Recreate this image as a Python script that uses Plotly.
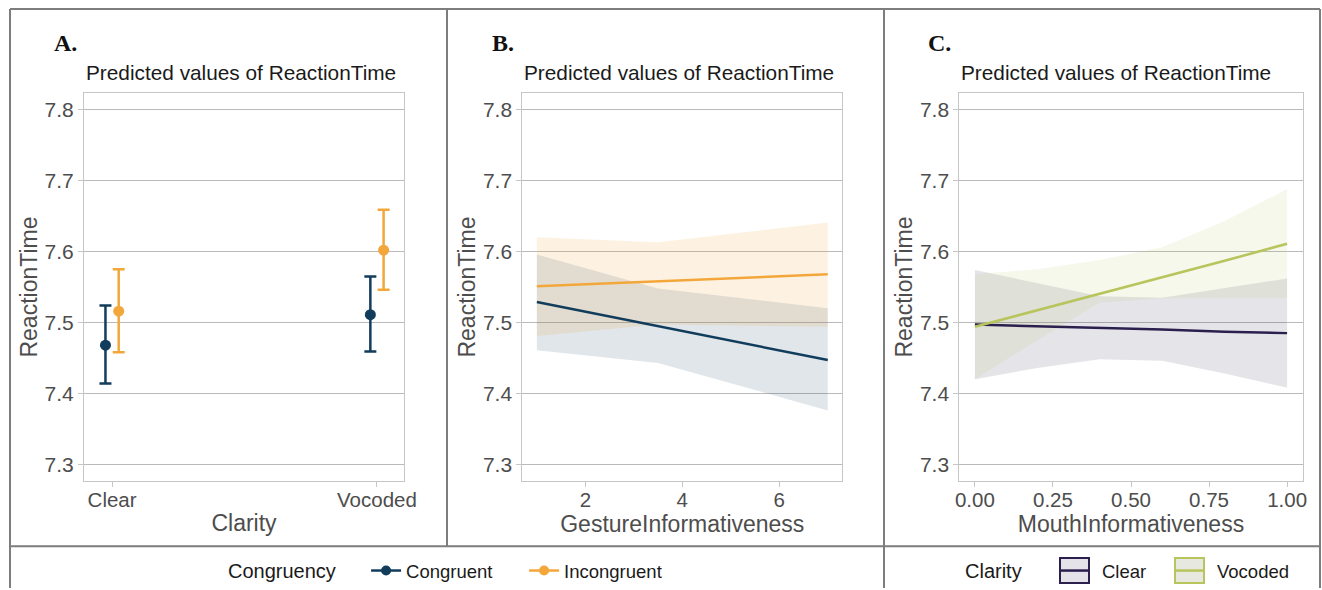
import plotly.graph_objects as go

W, H = 1322, 590

# ---------------- data ----------------
clarity_levels = ["Clear", "Vocoded"]
clarity_pos = [1, 2]
a_cong_fit = [7.468, 7.511]
a_cong_low = [7.414, 7.459]
a_cong_high = [7.524, 7.565]
a_incong_fit = [7.516, 7.602]
a_incong_low = [7.458, 7.546]
a_incong_high = [7.575, 7.659]

gesture_x = [1, 3.5, 7]
b_cong_fit = [7.529, 7.495, 7.447]
b_cong_low = [7.461, 7.443, 7.376]
b_cong_high = [7.596, 7.548, 7.520]
b_incong_fit = [7.551, 7.558, 7.568]
b_incong_low = [7.481, 7.497, 7.494]
b_incong_high = [7.620, 7.613, 7.641]

mouth_x = [0.0, 0.2, 0.4, 0.6, 0.8, 1.0]
c_clear_fit = [7.497, 7.495, 7.492, 7.490, 7.487, 7.485]
c_clear_low = [7.420, 7.436, 7.448, 7.446, 7.428, 7.408]
c_clear_high = [7.574, 7.555, 7.537, 7.535, 7.548, 7.562]
c_voc_fit = [7.494, 7.517, 7.540, 7.564, 7.587, 7.611]
c_voc_low = [7.420, 7.475, 7.528, 7.534, 7.535, 7.535]
c_voc_high = [7.568, 7.575, 7.588, 7.606, 7.643, 7.688]

y_ticks = [7.3, 7.4, 7.5, 7.6, 7.7, 7.8]
gesture_ticks = [2, 4, 6]
mouth_ticks = [0.0, 0.25, 0.5, 0.75, 1.0]
mouth_ticktext = ["0.00", "0.25", "0.50", "0.75", "1.00"]

# ---------------- style ----------------
NAVY = "#123c5c"
ORANGE = "#f3a73b"
PURPLE = "#2b1f4d"
OLIVE = "#b8c45c"
SANS = "Liberation Sans, Arial, sans-serif"
SERIF = "Liberation Serif, Times New Roman, serif"
TICK_COL = "#4d4d4d"
GRID = "#bababa"
BORDER = "#c6c6c6"
FRAME = "#7d7d7d"
dodge = 0.025


def fx(px):
    return px / W


def fy(py):
    return 1 - py / H


def band(xs, lo, hi, color, xa, ya):
    return go.Scatter(x=list(xs) + list(xs)[::-1], y=list(hi) + list(lo)[::-1],
                      fill="toself", fillcolor=color, line=dict(width=0),
                      mode="lines", hoverinfo="skip", showlegend=False,
                      xaxis=xa, yaxis=ya)


fig = go.Figure()

# Panel A: points with error bars
for fit, lo, hi, col, off in [(a_cong_fit, a_cong_low, a_cong_high, NAVY, -dodge),
                              (a_incong_fit, a_incong_low, a_incong_high, ORANGE, dodge)]:
    fig.add_trace(go.Scatter(
        x=[p + off for p in clarity_pos], y=fit, mode="markers",
        marker=dict(size=11, color=col),
        error_y=dict(type="data", symmetric=False,
                     array=[h - f for h, f in zip(hi, fit)],
                     arrayminus=[f - l for f, l in zip(fit, lo)],
                     color=col, thickness=2.5, width=6),
        showlegend=False, xaxis="x", yaxis="y"))

# Panel B: bands + lines
fig.add_trace(band(gesture_x, b_cong_low, b_cong_high, "rgba(18,60,92,0.13)", "x2", "y2"))
fig.add_trace(band(gesture_x, b_incong_low, b_incong_high, "rgba(243,167,59,0.15)", "x2", "y2"))
fig.add_trace(go.Scatter(x=gesture_x, y=b_cong_fit, mode="lines", line=dict(color=NAVY, width=2.5),
                         showlegend=False, xaxis="x2", yaxis="y2"))
fig.add_trace(go.Scatter(x=gesture_x, y=b_incong_fit, mode="lines", line=dict(color=ORANGE, width=2.5),
                         showlegend=False, xaxis="x2", yaxis="y2"))

# Panel C: bands + lines
fig.add_trace(band(mouth_x, c_clear_low, c_clear_high, "rgba(43,31,77,0.12)", "x3", "y3"))
fig.add_trace(band(mouth_x, c_voc_low, c_voc_high, "rgba(184,196,92,0.12)", "x3", "y3"))
fig.add_trace(go.Scatter(x=mouth_x, y=c_clear_fit, mode="lines", line=dict(color=PURPLE, width=2.5),
                         showlegend=False, xaxis="x3", yaxis="y3"))
fig.add_trace(go.Scatter(x=mouth_x, y=c_voc_fit, mode="lines", line=dict(color=OLIVE, width=2.5),
                         showlegend=False, xaxis="x3", yaxis="y3"))

# Legend entries for Congruency
for name, col in [("Congruent", NAVY), ("Incongruent", ORANGE)]:
    fig.add_trace(go.Scatter(x=[None], y=[None], mode="lines+markers", name=name,
                             line=dict(color=col, width=2.5), marker=dict(size=10, color=col),
                             xaxis="x", yaxis="y", legend="legend"))

# ---------------- axes ----------------
panels = {
    "": dict(x0=84, x1=404, xr=[0.894, 2.102], xt=clarity_pos, xtt=clarity_levels, xtitle="Clarity"),
    "2": dict(x0=522.3, x1=842.3, xr=[0.7, 7.3], xt=gesture_ticks, xtt=[str(t) for t in gesture_ticks],
              xtitle="GestureInformativeness"),
    "3": dict(x0=959.3, x1=1302.7, xr=[-0.05, 1.05], xt=mouth_ticks, xtt=mouth_ticktext,
              xtitle="MouthInformativeness"),
}
Y0, Y1 = 93, 483
layout_axes = {}
for k, p in panels.items():
    layout_axes["xaxis" + k] = dict(
        domain=[fx(p["x0"]), fx(p["x1"])], range=p["xr"], tickvals=p["xt"], ticktext=p["xtt"],
        showgrid=False, zeroline=False, showline=True, mirror=True, linecolor=BORDER, linewidth=1,
        ticks="outside", ticklen=5, tickcolor=BORDER, tickwidth=1.3, automargin=False,
        ticklabelstandoff=-5,
        tickfont=dict(family=SANS, size=20.5, color=TICK_COL),
        title=dict(text=p["xtitle"], font=dict(family=SANS, size=23, color=TICK_COL), standoff=4),
        anchor="y" + k, fixedrange=True)
    layout_axes["yaxis" + k] = dict(
        domain=[fy(Y1), fy(Y0)], range=[7.276, 7.824], tickvals=y_ticks,
        ticktext=[f"{t:.1f}" for t in y_ticks],
        showgrid=True, gridcolor=GRID, gridwidth=1.2, zeroline=False,
        showline=True, mirror=True, linecolor=BORDER, linewidth=1, automargin=False,
        ticks="outside", ticklen=5, tickcolor=BORDER, tickwidth=1.3,
        tickfont=dict(family=SANS, size=21, color=TICK_COL),
        title=dict(text="ReactionTime", font=dict(family=SANS, size=23, color=TICK_COL), standoff=0),
        anchor="x" + k, fixedrange=True)

annotations = []
for letter, lx, tx in [("A.", 52, 84), ("B.", 490, 522.3), ("C.", 926, 959.3)]:
    annotations.append(dict(text="<b>" + letter + "</b>", x=fx(lx), y=fy(43), xref="paper", yref="paper",
                            xanchor="left", yanchor="middle", showarrow=False,
                            font=dict(family=SERIF, size=24, color="#111111")))
    annotations.append(dict(text="Predicted values of ReactionTime", x=fx(tx), y=fy(73),
                            xref="paper", yref="paper", xanchor="left", yanchor="middle",
                            showarrow=False, font=dict(family=SANS, size=20.8, color="#1a1a1a")))

# Clarity legend drawn manually
annotations.append(dict(text="Clarity", x=fx(963), y=fy(573), xref="paper", yref="paper",
                        xanchor="left", yanchor="middle", showarrow=False,
                        font=dict(family=SANS, size=20, color="#1a1a1a")))
annotations.append(dict(text="Clear", x=fx(1100), y=fy(573), xref="paper", yref="paper",
                        xanchor="left", yanchor="middle", showarrow=False,
                        font=dict(family=SANS, size=18.5, color="#1a1a1a")))
annotations.append(dict(text="Vocoded", x=fx(1215), y=fy(573), xref="paper", yref="paper",
                        xanchor="left", yanchor="middle", showarrow=False,
                        font=dict(family=SANS, size=18.5, color="#1a1a1a")))

shapes = []


def pline(x0, y0, x1, y1, color=FRAME, width=2):
    shapes.append(dict(type="line", xref="paper", yref="paper", x0=fx(x0), y0=fy(y0),
                       x1=fx(x1), y1=fy(y1), line=dict(color=color, width=width)))


# outer frames
pline(10, 9, 1320, 9)
pline(10, 9, 10, 590)
pline(1320, 9, 1320, 590)
pline(447, 9, 447, 548)
pline(884, 9, 884, 590)
pline(10, 548, 1320, 548)

# Clarity legend keys
for kx0, fill, col in [(1060, "#e5e3ea", PURPLE), (1175, "#e7e8e0", OLIVE)]:
    shapes.append(dict(type="rect", xref="paper", yref="paper", x0=fx(kx0), x1=fx(kx0 + 29),
                       y0=fy(585), y1=fy(560), fillcolor=fill, line=dict(color=col, width=2)))
    pline(kx0, 572.5, kx0 + 29, 572.5, color=col, width=2.5)

fig.update_layout(
    template="none",
    width=W, height=H, autosize=False, margin=dict(l=0, r=0, t=0, b=0, pad=0),
    paper_bgcolor="white", plot_bgcolor="white",
    annotations=annotations, shapes=shapes,
    legend=dict(orientation="h", x=fx(226), xanchor="left", y=fy(573), yanchor="middle",
                title=dict(text="Congruency\u00a0\u00a0\u00a0\u00a0",
                           font=dict(family=SANS, size=20, color="#1a1a1a"), side="left"),
                font=dict(family=SANS, size=18.5, color="#1a1a1a"),
                bgcolor="rgba(0,0,0,0)", borderwidth=0, itemwidth=30, traceorder="normal",
                entrywidth=113, tracegroupgap=0),
    showlegend=True,
    **layout_axes,
)

fig.write_html(
    "out.html",
    config={"displayModeBar": False, "responsive": False},
    post_script=("document.documentElement.style.margin='0px';"
                 "document.body.style.margin='0px';"
                 "document.documentElement.style.overflow='hidden';"
                 "document.body.style.overflow='hidden';"),
)
